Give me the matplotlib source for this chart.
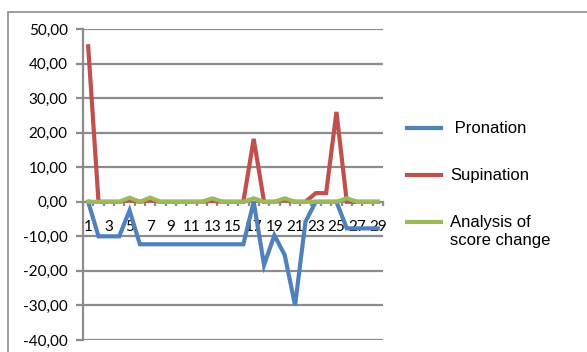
import matplotlib
matplotlib.use("Agg")
import matplotlib.pyplot as plt
from matplotlib.patches import Rectangle
from matplotlib.lines import Line2D
from matplotlib.ticker import FixedLocator, FuncFormatter
import numpy as np

categories = list(range(1, 30))
pronation = [0, -10, -10, -10, -2.5, -12.3, -12.3, -12.3, -12.3, -12.3,
             -12.3, -12.3, -12.3, -12.3, -12.3, -12.3, 0, -18.3, -9.7, -15.4,
             -30, -5.8, 0, 0, 0, -7.7, -7.7, -7.7, -7.7]
supination = [45, 0, 0, 0, 0.5, 0, 0.5, 0, 0, 0,
              0, 0, 0.3, 0, 0, 0, 18.2, 0, 0, 0.5,
              0, 0, 2.5, 2.5, 26, 0, 0, 0, 0]
score_change = [0, 0, 0, 0, 1.2, 0, 1.2, 0, 0, 0,
                0, 0, 1.0, 0, 0, 0, 1.0, 0, 0, 1.0,
                0, 0, 0, 0, 0, 1.0, 0, 0, 0]
series_names = [" Pronation", "Supination", "Analysis of\nscore change"]
colors = ["#4F81BD", "#C0504D", "#9BBB59"]
y_ticks = list(range(-40, 51, 10))

W, H = 587, 352
fig = plt.figure(figsize=(W / 100, H / 100), dpi=100)

# outer chart border
fig.patches.append(Rectangle((8 / W, -0.2), 1.2, 1 - 12 / H + 0.2,
                             transform=fig.transFigure, fill=False,
                             edgecolor="#8C8C8C", linewidth=1.2))

ax = fig.add_axes([83 / W, 12 / H, 300 / W, (340 - 29) / H])
ax.set_xlim(0.5, 29.5)
ax.set_ylim(-40, 50)

grid_c = "#8C8C8C"
for y in y_ticks:
    if y != 0:
        ax.axhline(y, color=grid_c, lw=1.6, zorder=1)

lines = []
for vals, c, name in zip([pronation, supination, score_change], colors, series_names):
    ln, = ax.plot(categories, vals, color=c, lw=3.0, solid_joinstyle="miter",
                  label=name, zorder=3)
    lines.append(ln)

for s in ["top", "right"]:
    ax.spines[s].set_visible(False)
ax.spines["left"].set_color(grid_c)
ax.spines["left"].set_linewidth(1.6)
ax.spines["bottom"].set_position(("data", 0))
ax.spines["bottom"].set_color(grid_c)
ax.spines["bottom"].set_linewidth(1.6)
ax.spines["bottom"].set_zorder(2)

ax.yaxis.set_major_locator(FixedLocator(y_ticks))
ax.yaxis.set_major_formatter(FuncFormatter(lambda v, p: f"{v:.2f}".replace(".", ",")))
ax.tick_params(axis="y", length=5, width=1.6, color=grid_c, pad=6,
               labelsize=11, labelcolor="#000000")

ax.xaxis.set_major_locator(FixedLocator(categories[::2]))
ax.xaxis.set_major_formatter(FuncFormatter(lambda v, p: f"{int(round(v))}"))
ax.xaxis.set_minor_locator(FixedLocator(np.arange(0.5, 30, 1)))
ax.tick_params(axis="x", which="major", length=0, pad=13, labelsize=11)
ax.tick_params(axis="x", which="minor", length=3, width=1.6, color=grid_c,
               direction="out")

for lab in ax.get_xticklabels() + ax.get_yticklabels():
    lab.set_fontfamily("Lato")

# legend on the right: short line sample followed by the series name
legend_rows = [128, 175, 222]
font_px = 12 * 100 / 72
for ln, name, ry in zip(lines, series_names, legend_rows):
    yf = 1 - ry / H
    fig.add_artist(Line2D([407 / W, 441 / W], [yf, yf], transform=fig.transFigure,
                          color=ln.get_color(), lw=3.0))
    fig.text(450 / W, 1 - (ry - font_px * 0.42) / H, name,
             ha="left", va="top", fontsize=12, family="Liberation Sans",
             linespacing=1.25, color="#000000")

fig.savefig("out.png", dpi=100)
